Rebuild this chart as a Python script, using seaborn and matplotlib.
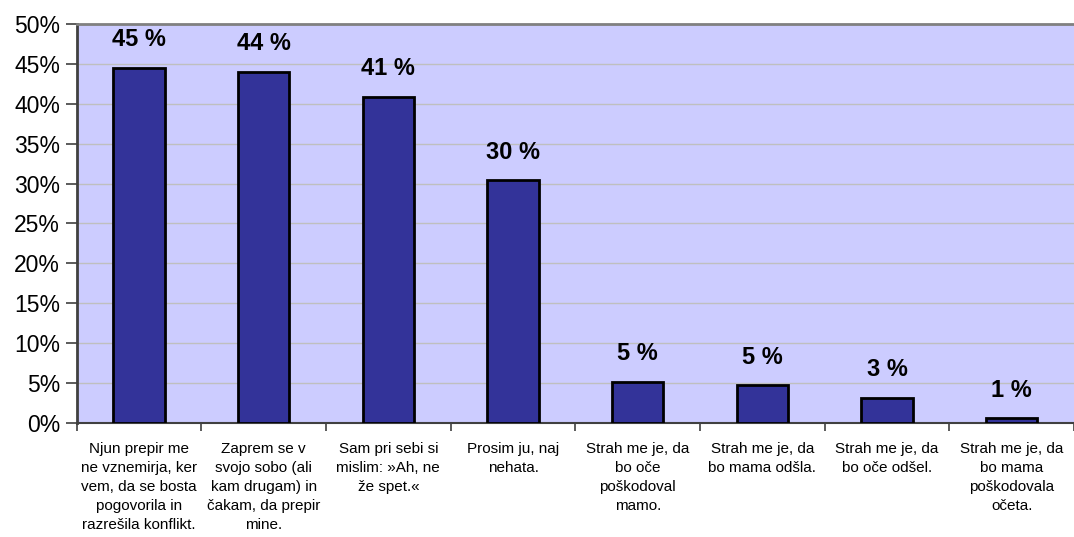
import matplotlib
matplotlib.use("Agg")
import matplotlib.pyplot as plt
from matplotlib.ticker import PercentFormatter, MultipleLocator, FixedLocator
import seaborn as sns

# odgovori (kategorije) in deleži v %
categories = [
    "Njun prepir me\nne vznemirja, ker\nvem, da se bosta\npogovorila in\nrazrešila konflikt.",
    "Zaprem se v\nsvojo sobo (ali\nkam drugam) in\nčakam, da prepir\nmine.",
    "Sam pri sebi si\nmislim: »Ah, ne\nže spet.«",
    "Prosim ju, naj\nnehata.",
    "Strah me je, da\nbo oče\npoškodoval\nmamo.",
    "Strah me je, da\nbo mama odšla.",
    "Strah me je, da\nbo oče odšel.",
    "Strah me je, da\nbo mama\npoškodovala\nočeta.",
]
values = [44.5, 44.0, 40.9, 30.4, 5.1, 4.7, 3.1, 0.55]
bar_labels = ["45 %", "44 %", "41 %", "30 %", "5 %", "5 %", "3 %", "1 %"]

sns.set_style("white")
plt.rcParams["font.family"] = ["Liberation Sans", "DejaVu Sans"]

fig = plt.figure(figsize=(10.74, 5.37), dpi=100)
ax = fig.add_axes([0.0714, 0.2129, 0.9286, 0.7419])
ax.set_facecolor("#CCCCFF")

sns.barplot(x=categories, y=values, color="#333399", saturation=1,
            edgecolor="black", linewidth=2, width=0.41, ax=ax, zorder=3)

ax.bar_label(ax.containers[0], labels=bar_labels, padding=12,
             fontsize=17, fontweight="bold", color="black")

ax.set_ylim(0, 50)
ax.set_xlim(-0.5, len(categories) - 0.5)
ax.yaxis.set_major_locator(MultipleLocator(5))
ax.yaxis.set_major_formatter(PercentFormatter(decimals=0))
ax.grid(axis="y", color="#BFBFBF", linewidth=1, zorder=0)
ax.set_axisbelow(True)

ax.tick_params(axis="y", left=True, length=8, width=1.2, color="#404040",
               labelsize=16.5, labelcolor="black", pad=4)
ax.tick_params(axis="x", which="major", length=0, labelsize=11,
               labelcolor="black", pad=14)
ax.xaxis.set_minor_locator(FixedLocator([i - 0.5 for i in range(len(categories) + 1)]))
ax.tick_params(axis="x", which="minor", bottom=True, length=6, width=1.2, color="#404040")
for lab in ax.get_xticklabels():
    lab.set_linespacing(1.45)

ax.set_xlabel("")
ax.set_ylabel("")
ax.spines["top"].set_color("#808080")
ax.spines["top"].set_linewidth(2)
ax.spines["left"].set_color("#404040")
ax.spines["left"].set_linewidth(2)
ax.spines["bottom"].set_color("#404040")
ax.spines["bottom"].set_linewidth(1.5)
ax.spines["right"].set_visible(False)

fig.savefig("out.png", dpi=100)
